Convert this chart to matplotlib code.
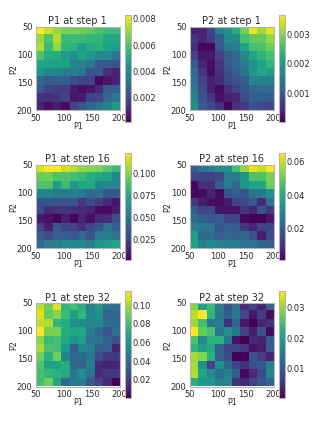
import numpy as np
import matplotlib
matplotlib.use("Agg")
import matplotlib.pyplot as plt

W, H = 317, 423
p_ticks = [50, 100, 150, 200]

p1_step1 = [[1.0,.92,.85,.8,.8,.78,.76,.72,.68,.68],
            [.85,.72,.88,.68,.68,.68,.66,.66,.6,.6],
            [.88,.68,.84,.66,.64,.56,.62,.64,.58,.56],
            [.72,.62,.62,.56,.5,.58,.52,.48,.48,.38],
            [.6,.58,.58,.58,.46,.44,.4,.28,.28,.26],
            [.52,.46,.46,.42,.42,.4,.25,.28,.14,.1],
            [.33,.3,.3,.3,.24,.2,.2,.02,.06,.1],
            [.27,.2,.18,.18,.08,.04,.06,.12,.28,.3],
            [.14,.14,.15,.2,.06,.08,.2,.22,.33,.4],
            [.1,.04,.08,.03,.2,.27,.34,.38,.46,.54]]
p2_step1 = [[.08,.1,.2,.45,.5,.62,.78,.98,.85,.97],
            [.15,.1,.18,.3,.48,.48,.7,.76,.76,.84],
            [.13,.02,.02,.28,.4,.42,.58,.7,.72,.78],
            [.2,.06,.07,.2,.3,.34,.48,.6,.66,.7],
            [.3,.1,.04,.16,.28,.34,.42,.52,.58,.66],
            [.35,.16,.03,.14,.24,.3,.38,.52,.6,.55],
            [.38,.2,.09,.12,.22,.26,.3,.46,.44,.44],
            [.4,.24,.08,.03,.14,.2,.26,.34,.36,.36],
            [.46,.25,.16,.05,.09,.1,.24,.3,.3,.3],
            [.5,.28,.22,.14,.01,.14,.17,.26,.22,.2]]
p1_step16 = [[.95,1,1,.93,.9,.83,.82,.8,.74,.68],
             [.78,.78,.72,.72,.7,.68,.62,.6,.58,.48],
             [.72,.72,.55,.68,.52,.6,.6,.46,.46,.46],
             [.45,.45,.42,.4,.42,.4,.33,.38,.27,.27],
             [.25,.26,.26,.25,.25,.16,.24,.18,.12,.06],
             [.22,.12,.15,.15,.14,.12,.1,.03,.02,.08],
             [.07,.05,.01,.08,.01,.1,.04,.12,.12,.24],
             [.2,.08,.28,.2,.2,.14,.22,.26,.38,.3],
             [.28,.24,.3,.3,.28,.34,.26,.42,.42,.38],
             [.35,.42,.42,.48,.46,.46,.42,.52,.54,.6]]
p2_step16 = [[.3,.38,.42,.5,.5,.7,.84,.97,.92,1],
             [.22,.2,.2,.22,.42,.42,.52,.72,.72,.8],
             [.02,.14,.14,.3,.42,.34,.52,.58,.6,.78],
             [.02,.03,.1,.03,.25,.3,.26,.4,.4,.5],
             [.17,.08,.04,.03,.08,.2,.22,.28,.12,.38],
             [.28,.2,.22,.06,.05,.05,.15,.1,.25,.16],
             [.36,.3,.28,.3,.2,.2,.02,0,0,.06],
             [.44,.4,.4,.26,.3,.28,.17,.1,.2,.2],
             [.56,.34,.36,.3,.34,.32,.33,.26,.08,.22],
             [.58,.42,.48,.44,.42,.42,.38,.38,.32,.3]]
p1_step32 = [[.9,.78,.95,.66,.7,.62,.44,.52,.38,.38],
             [.95,.76,.82,.68,.56,.66,.46,.5,.32,.33],
             [.9,.88,.66,.62,.5,.48,.46,.46,.36,.34],
             [1,.8,.8,.62,.6,.6,.42,.34,.26,.36],
             [.82,.68,.7,.6,.52,.56,.38,.38,.3,.24],
             [.88,.72,.7,.54,.3,.46,.44,.27,.3,.1],
             [.78,.64,.78,.46,.34,.34,.4,.24,.16,.16],
             [.72,.58,.58,.62,.34,.32,.42,.12,.1,.1],
             [.7,.66,.64,.6,.4,.5,.38,.12,.16,.16],
             [.7,.78,.6,.34,.42,.42,.28,.2,.12,0]]
p2_step32 = [[.82,.58,.68,.4,.26,.38,.12,.2,.1,.32],
             [.9,1,.66,.4,.3,.4,.22,.06,.18,.03],
             [.85,.7,.4,.42,.14,.32,.06,0,.1,.14],
             [1,.76,.7,.4,.5,.4,.2,.08,.26,.03],
             [.72,.48,.64,.64,.4,.05,0,.12,.1,.3],
             [.66,.56,.6,.3,.2,.2,.16,.05,.08,.3],
             [.86,.82,.64,.3,.24,0,0,.26,.18,.1],
             [.86,.5,.2,.5,.32,.2,.14,.24,.28,.44],
             [.88,.6,.48,.36,.44,.3,.02,.12,.22,.46],
             [.64,.54,.54,.44,.46,.14,.12,.2,.26,.32]]

titles = ["P1 at step 1", "P2 at step 1", "P1 at step 16",
          "P2 at step 16", "P1 at step 32", "P2 at step 32"]
grids = [p1_step1, p2_step1, p1_step16, p2_step16, p1_step32, p2_step32]
ranges = [(0.00012, 0.0083), (0.00002, 0.00367), (0.001, 0.124),
          (0.0009, 0.0654), (0.0007, 0.115), (0.0003, 0.0356)]
cbar_ticks = [[0.002, 0.004, 0.006, 0.008], [0.001, 0.002, 0.003],
              [0.025, 0.050, 0.075, 0.100], [0.02, 0.04, 0.06],
              [0.02, 0.04, 0.06, 0.08, 0.10], [0.01, 0.02, 0.03]]
cbar_fmt = ["%.3f", "%.3f", "%.3f", "%.2f", "%.2f", "%.2f"]

# pixel boxes: left, top, width, height
ax_left = [36, 190]
cb_left = [125, 279]
ax_top = [27, 165, 303]
cb_top = [15, 153, 291]

GRAY = "#b4b4b4"
TXT = "#2a2a2a"


def box(l, t, w, h):
    return [l / W, 1 - (t + h) / H, w / W, h / H]


fig = plt.figure(figsize=(W / 100, H / 100), dpi=100)
for i, (title, grid, (lo, hi)) in enumerate(zip(titles, grids, ranges)):
    r, c = divmod(i, 2)
    ax = fig.add_axes(box(ax_left[c], ax_top[r], 83.5, 83.5))
    values = lo + np.array(grid) * (hi - lo)
    im = ax.imshow(values, cmap="viridis", vmin=lo, vmax=hi,
                   extent=[50, 200, 200, 50], aspect="auto",
                   interpolation="nearest")
    ax.set_xticks(p_ticks)
    ax.set_yticks(p_ticks)
    ax.tick_params(length=0, labelsize=6, labelcolor=TXT)
    ax.tick_params(axis="x", pad=2.8)
    ax.tick_params(axis="y", pad=2.6)
    ax.set_xlabel("P1", fontsize=5.8, color=TXT, labelpad=-1.0)
    ax.set_ylabel("P2", fontsize=5.8, color=TXT, labelpad=-1.0)
    ax.set_title(title, fontsize=7, color=TXT, pad=1.8)
    for s in ax.spines.values():
        s.set_color(GRAY)
        s.set_linewidth(0.8)
    cax = fig.add_axes(box(cb_left[c], cb_top[r], 5.5, 107))
    cb = fig.colorbar(im, cax=cax, ticks=cbar_ticks[i], format=cbar_fmt[i])
    cb.ax.tick_params(length=0, pad=1.6, labelsize=6, labelcolor=TXT)
    cb.outline.set_edgecolor(GRAY)
    cb.outline.set_linewidth(0.8)

fig.savefig("out.png", dpi=100)
